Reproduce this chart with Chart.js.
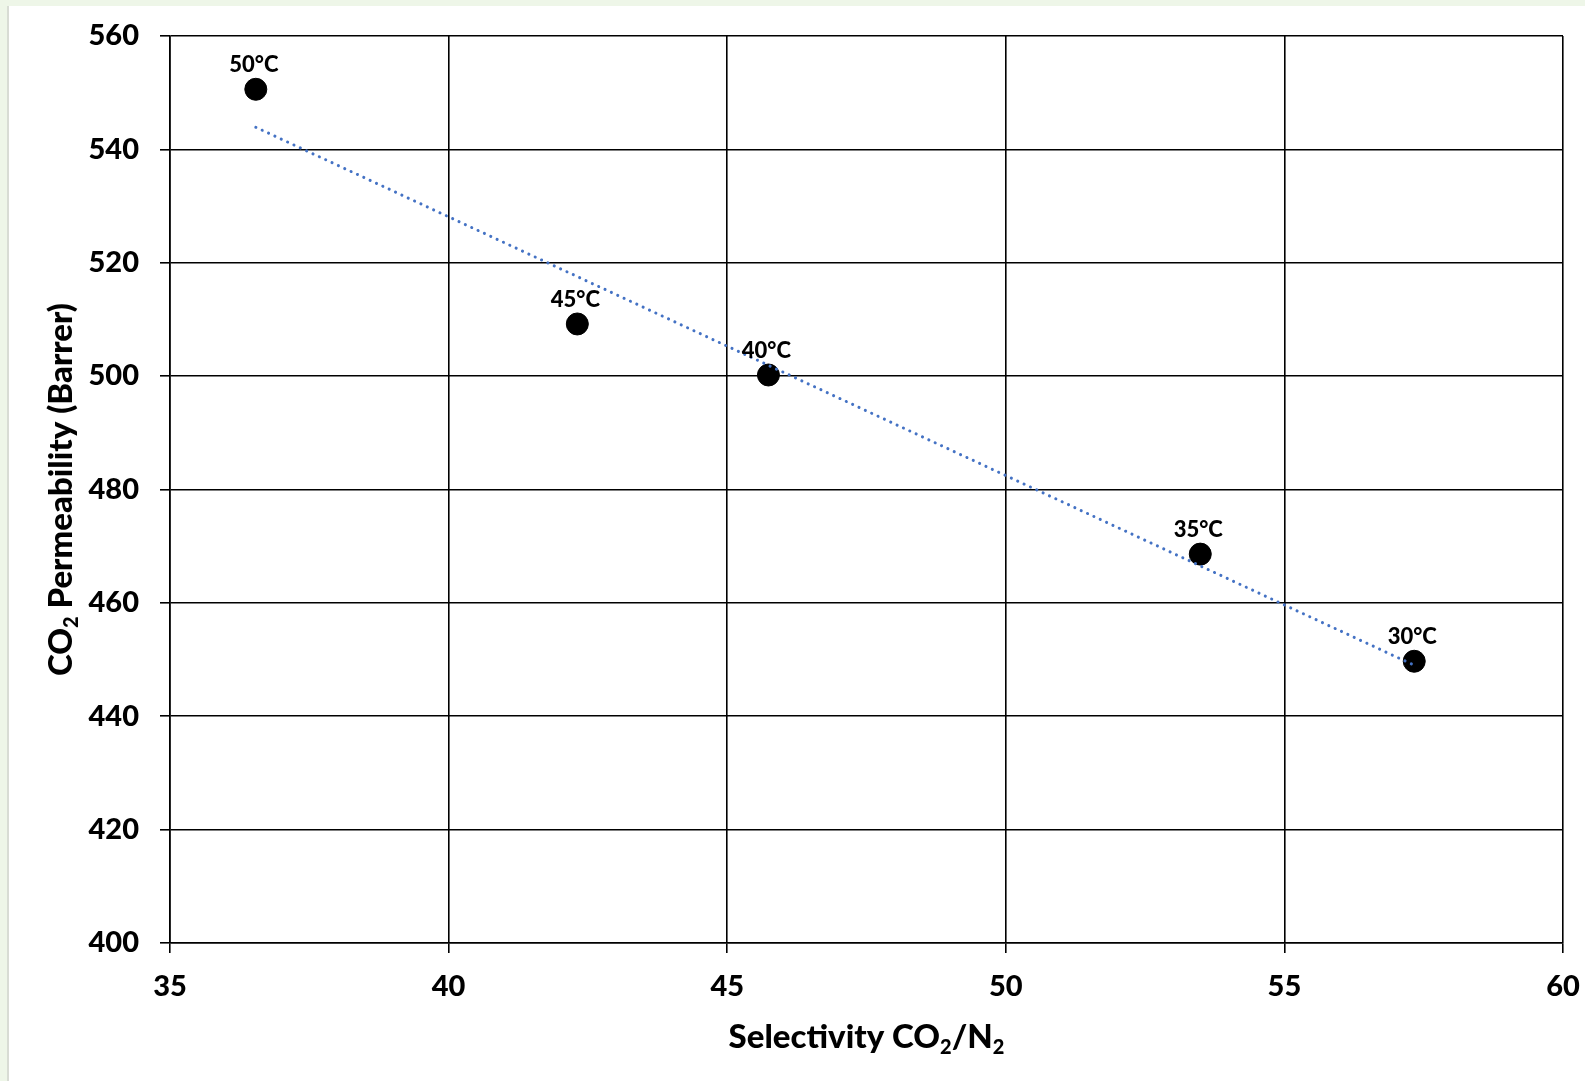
<!DOCTYPE html>
<html>
<head>
<meta charset="utf-8">
<script src="https://cdn.jsdelivr.net/npm/chart.js@4/dist/chart.umd.min.js"></script>
<style>
    body {
        margin: 0;
        background-color: #eef6e8;
        overflow: hidden;
    }
    #panel {
        position: absolute;
        left: 7px;
        top: 6px;
        width: 1576px;
        height: 1075px;
        background-color: #ffffff;
        border-left: 2px solid #d8dcd4;
    }
</style>
</head>
<body>
<div id="panel">
    <canvas id="chart" width="1576" height="1075"></canvas>
</div>
<script>
// values
let tempLabels   = ["50°C", "45°C", "40°C", "35°C", "30°C"];
let selectivity  = [36.54, 42.31, 45.74, 53.49, 57.33];
let permeability = [550.6, 509.2, 500.2, 468.6, 449.7];

// linear trend line end points
let trendX = [36.54, 57.33];
let trendY = [543.9, 449.0];

let xTicks = [35, 40, 45, 50, 55, 60];
let yTicks = [400, 420, 440, 460, 480, 500, 520, 540, 560];

const FONT = "Lato";

/**
 * Draws text with "2" style subscripts. Parts are [text, isSub].
 */
function drawParts(ctx, parts, x, y, size, align)
{
    let subSize = Math.round(size * 0.6);
    let total = 0;
    for(let i = 0; i < parts.length; i++)
    {
        ctx.font = "900 " + (parts[i][1] ? subSize : size) + "px " + FONT;
        total += ctx.measureText(parts[i][0]).width;
    }
    let cx = align == "center" ? x - total / 2 : x;
    ctx.textAlign = "left";
    ctx.textBaseline = "alphabetic";
    for(let i = 0; i < parts.length; i++)
    {
        let sub = parts[i][1];
        ctx.font = "900 " + (sub ? subSize : size) + "px " + FONT;
        ctx.fillText(parts[i][0], cx, sub ? y + 6 : y);
        cx += ctx.measureText(parts[i][0]).width;
    }
}

/**
 * Fixes the scale size and drops the extra label padding so the plot area lands where it should.
 */
function fixScale(scale, size)
{
    if(scale.isHorizontal())
    {
        scale.height = size;
    }
    else
    {
        scale.width = size;
    }
    scale.paddingTop = 0;
    scale.paddingBottom = 0;
    scale.paddingLeft = 0;
    scale.paddingRight = 0;
}

// axis titles and the temperature labels above the points
const extras = {
    id: "extras",
    afterDatasetsDraw(chart)
    {
        let ctx  = chart.ctx;
        let area = chart.chartArea;
        ctx.save();
        ctx.fillStyle = "#000000";

        // point labels
        let meta = chart.getDatasetMeta(1);
        ctx.font = "900 22px " + FONT;
        ctx.textAlign = "center";
        ctx.textBaseline = "alphabetic";
        for(let i = 0; i < meta.data.length; i++)
        {
            let pt = meta.data[i];
            ctx.fillText(tempLabels[i], pt.x - 2, pt.y - 17);
        }

        // x title
        drawParts(ctx, [["Selectivity CO", false], ["2", true], ["/N", false], ["2", true]],
            (area.left + area.right) / 2, area.bottom + 105, 33, "center");

        // y title
        ctx.translate(63, (area.top + area.bottom) / 2);
        ctx.rotate(-Math.PI / 2);
        drawParts(ctx, [["CO", false], ["2", true], [" Permeability (Barrer)", false]],
            0, 0, 33, "center");

        ctx.restore();
    }
};

function drawChart()
{
    let points = [];
    for(let i = 0; i < selectivity.length; i++)
    {
        points.push({x: selectivity[i], y: permeability[i]});
    }
    let trend = [];
    for(let i = 0; i < trendX.length; i++)
    {
        trend.push({x: trendX[i], y: trendY[i]});
    }

    let myChart = new Chart(document.getElementById("chart"), {
        type: "scatter",
        data: {
            datasets: [{
                type: "line",
                label: "trend",
                data: trend,
                borderColor: "#4472c4",
                borderWidth: 3,
                borderDash: [0.1, 6.9],
                borderCapStyle: "round",
                pointRadius: 0,
                fill: false,
                order: 0
            }, {
                label: "data",
                data: points,
                backgroundColor: "#000000",
                borderColor: "#000000",
                borderWidth: 1,
                pointRadius: 11,
                order: 1
            }]
        },
        options: {
            responsive: false,
            animation: false,
            layout: {
                padding: {top: 30, right: 22, bottom: 0, left: 0}
            },
            plugins: {
                legend: {display: false},
                tooltip: {enabled: false}
            },
            scales: {
                x: {
                    type: "linear",
                    min: 35,
                    max: 60,
                    afterBuildTicks: (scale) => { scale.ticks = xTicks.map(v => ({value: v})); },
                    afterFit: (scale) => { fixScale(scale, 138); },
                    grid: {color: "#000000", lineWidth: 1.6, tickLength: 10},
                    border: {color: "#000000", width: 1.6},
                    ticks: {
                        color: "#000000",
                        padding: 16,
                        maxRotation: 0,
                        font: {family: FONT, size: 29, weight: "900"}
                    }
                },
                y: {
                    type: "linear",
                    min: 400,
                    max: 560,
                    afterBuildTicks: (scale) => { scale.ticks = yTicks.map(v => ({value: v})); },
                    afterFit: (scale) => { fixScale(scale, 161); },
                    grid: {color: "#000000", lineWidth: 1.6, tickLength: 10},
                    border: {color: "#000000", width: 1.6},
                    ticks: {
                        color: "#000000",
                        padding: 21,
                        font: {family: FONT, size: 29, weight: "900"}
                    }
                }
            }
        },
        plugins: [extras]
    });
}

drawChart();
</script>
</body>
</html>
